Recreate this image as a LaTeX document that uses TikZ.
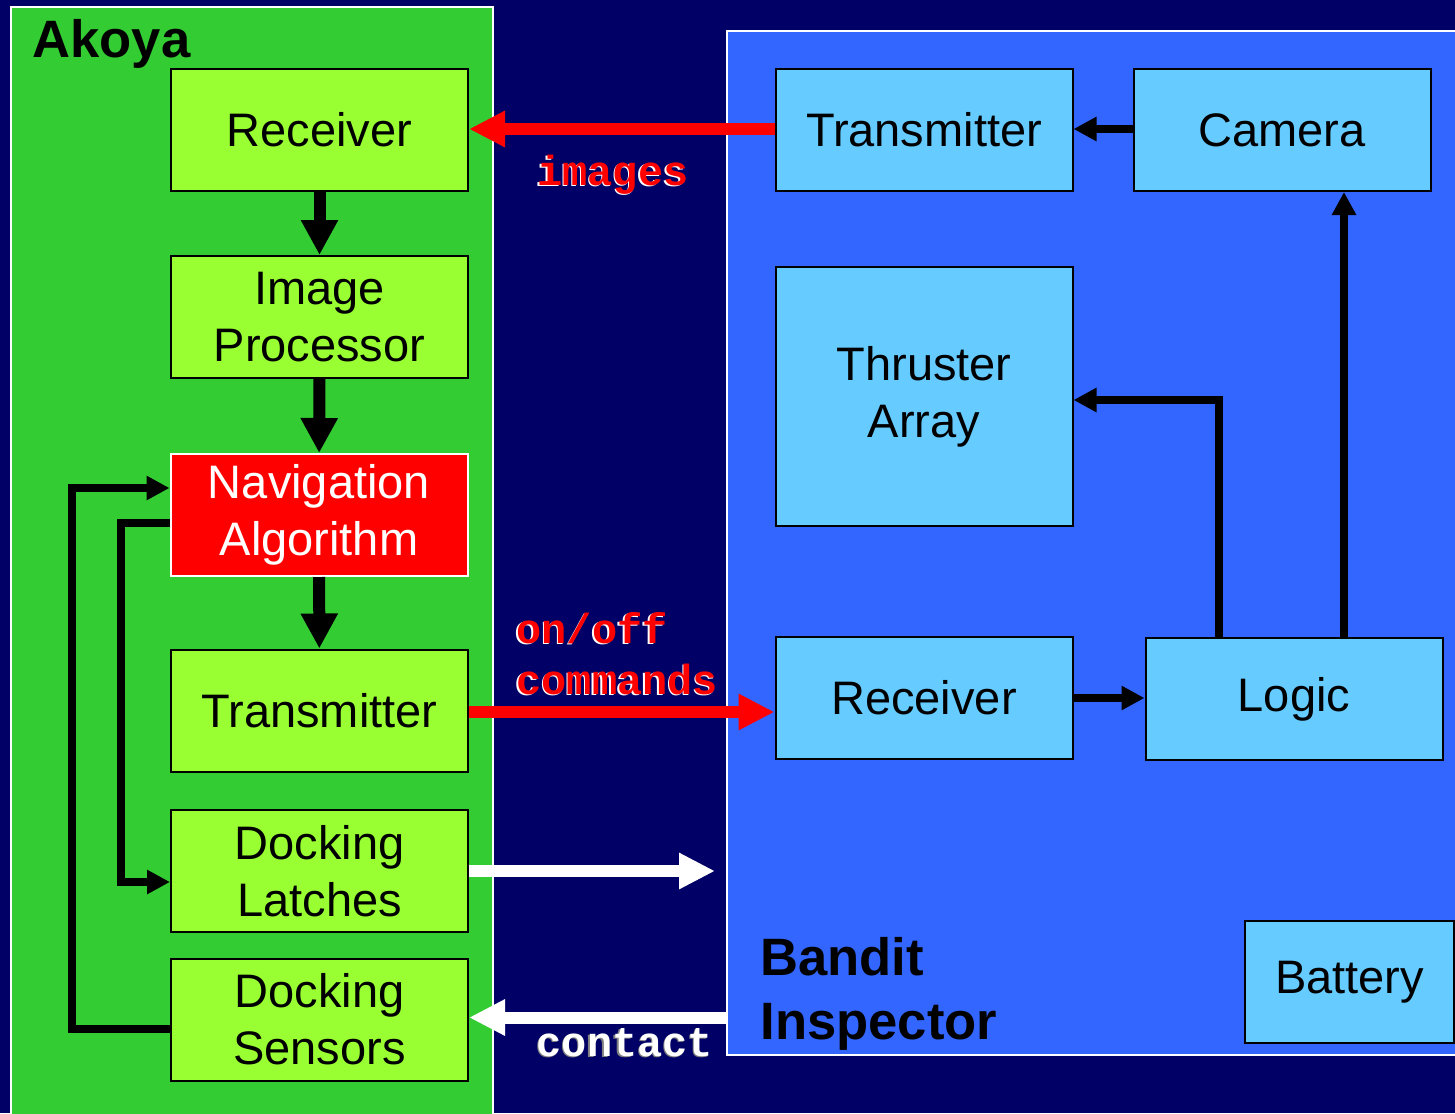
\documentclass[tikz,border=0pt]{standalone}
\usepackage{fontspec}
\setmainfont{Liberation Sans}
\setmonofont{Liberation Mono}
\usetikzlibrary{arrows.meta}

\definecolor{navy}{HTML}{000066}
\definecolor{akoyagreen}{HTML}{33CC33}
\definecolor{limebox}{HTML}{99FF33}
\definecolor{banditblue}{HTML}{3366FF}
\definecolor{skybox}{HTML}{66CCFF}

\tikzset{
  box/.style={draw=black,line width=1pt,minimum width=148.5pt,minimum height=61pt,
              inner sep=0pt,align=center,font=\fontsize{23.5}{28.5}\selectfont},
  akbox/.style={box,fill=limebox},
  bdbox/.style={box,fill=skybox},
  panel/.style={draw=white,line width=1pt,inner sep=0pt,anchor=north west},
  title/.style={inner sep=0pt,align=left,font=\fontsize{26.3}{32}\selectfont\bfseries},
  lbl/.style={inner sep=0pt,align=left,font=\fontsize{21}{25.5}\selectfont\ttfamily\bfseries},
  blk/.style={draw=black,line width=4pt,-{Triangle[length=11.5pt,width=11.5pt]}},
  blkdown/.style={draw=black,line width=6pt,-{Triangle[length=17.5pt,width=17.5pt]}},
  redarr/.style={draw=red,line width=6pt,-{Triangle[length=18pt,width=17pt]}},
  whitearr/.style={draw=white,line width=6pt,-{Triangle[length=18pt,width=17pt]}}
}

\begin{document}
\begin{tikzpicture}[x=0.5pt,y=-0.5pt]
  \fill[navy] (0,0) rectangle (1455,1113);
  \useasboundingbox (0,0) rectangle (1455,1113);

  % the two panels
  \node[panel,fill=akoyagreen,minimum width=241pt,minimum height=560pt] (akoya) at (10,6) {};
  \node[panel,fill=banditblue,minimum width=370pt,minimum height=512pt] (bandit) at (726,30) {};
  \node[title,anchor=base west] (akoyatitle) at (32,58) {Akoya};
  \node[title,anchor=north west] (bandittitle) at (760,937) {Bandit\\Inspector};

  % Akoya side
  \node[akbox] (aRecv)  at (319.5,130)   {Receiver};
  \node[akbox] (aImg)   at (319.5,317)   {Image\\Processor};
  \node[box,fill=red,draw=white,text=white] (aNav) at (319,515) {Navigation\\Algorithm};
  \node[akbox] (aTx)    at (319.5,710.5) {Transmitter};
  \node[akbox] (aLatch) at (319.5,871)   {Docking\\Latches};
  \node[akbox] (aSens)  at (319.5,1019.5) {Docking\\Sensors};

  % Bandit side
  \node[bdbox] (bTx)    at (924,130)    {Transmitter};
  \node[bdbox] (bCam)   at (1282,130)   {Camera};
  \node[bdbox,minimum height=129.5pt] (bThr) at (924,396.5) {Thruster\\Array};
  \node[bdbox] (bRecv)  at (924,698)    {Receiver};
  \node[bdbox] (bLogic) at (1294,699)   {Logic};
  \node[bdbox,minimum width=104.5pt] (bBatt) at (1349.5,982) {Battery};

  % arrows inside Akoya
  \draw[blkdown] (aRecv) -- (aImg);
  \draw[blkdown] (aImg) -- (aNav);
  \draw[blkdown] (aNav) -- (aTx);
  \draw[blk] ([yshift=-4.75pt]aSens.west) -- ++(-98,0) |- ([yshift=13.5pt]aNav.west);
  \draw[blk] ([yshift=-4pt]aNav.west) -- ++(-49,0) |- ([yshift=-5.5pt]aLatch.west);

  % arrows inside Bandit
  \coordinate (camtap) at ([xshift=31pt]bCam.south);
  \coordinate (thrtap) at ([xshift=37pt]bLogic.north west);
  \draw[blk] ([yshift=0.5pt]bCam.west) -- ([yshift=0.5pt]bTx.east);
  \draw[blk] (bRecv.east) -- (bLogic.west |- bRecv.east);
  \draw[blk] (thrtap) |- ([yshift=-1.75pt]bThr.east);
  \draw[blk] (bLogic.north -| camtap) -- (camtap);

  % links between the two
  \draw[redarr] ([yshift=0.5pt]bTx.west) -- ([yshift=0.5pt]aRecv.east);
  \draw[redarr] ([yshift=-0.75pt]aTx.east) -- ([yshift=-0.75pt]aTx.east -| bRecv.west);
  \coordinate (latchend) at ([xshift=-5.5pt]aLatch.east -| bandit.west);
  \draw[whitearr] (aLatch.east) -- (latchend);
  \draw[whitearr] ([yshift=1pt]bandit.west |- aSens.east) -- ([yshift=1pt]aSens.east);

  % labels on the links
  \node[lbl,text=white,anchor=base] at (611.5,186.5) {images};
  \node[lbl,text=red,anchor=base] (imglbl) at (613,185) {images};
  \node[lbl,text=white,anchor=north west] at (514.5,613.5) {on/off\\commands};
  \node[lbl,text=red,anchor=north west] (cmdlbl) at (516,612) {on/off\\commands};
  \node[lbl,text=gray,anchor=base] at (623.5,1057.5) {contact};
  \node[lbl,text=white,anchor=base] (contactlbl) at (625,1056) {contact};
\end{tikzpicture}
\end{document}
